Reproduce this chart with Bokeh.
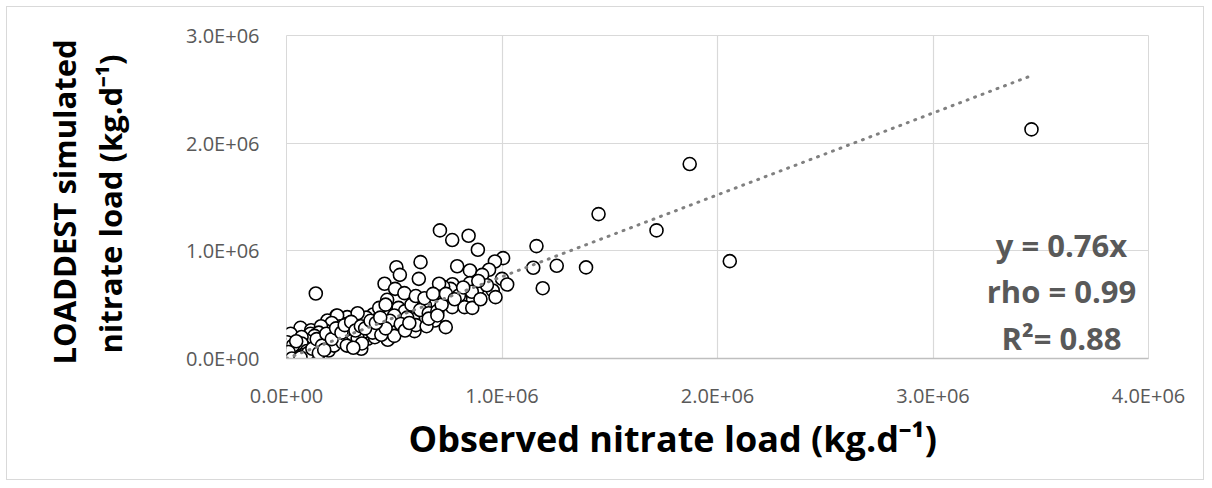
from bokeh.plotting import figure
from bokeh.models import Range1d, FixedTicker, Label, ColumnDataSource, Title
from bokeh.embed import file_html
from bokeh.resources import INLINE

# Observed vs LOADDEST simulated nitrate load (kg/d)
observed = [
    3.457e6, 1.871e6, 1.717e6, 2.057e6, 1.448e6, 1.160e6, 1.145e6, 1.254e6, 1.390e6, 1.189e6,
    1.005e6, 0.967e6, 0.940e6, 1.000e6, 1.024e6, 0.888e6, 0.845e6, 0.769e6, 0.712e6, 0.792e6,
    0.851e6, 0.908e6, 0.851e6, 0.770e6, 0.761e6, 0.885e6, 0.957e6, 0.970e6, 0.807e6, 0.727e6,
    0.136e6, 0.622e6, 0.510e6, 0.526e6, 0.614e6, 0.455e6, 0.504e6, 0.547e6, 0.708e6, 0.467e6,
    0.603e6, 0.642e6, 0.455e6, 0.588e6, 0.688e6, 0.739e6, 0.594e6, 0.507e6, 0.402e6, 0.405e6,
    0.377e6, 0.470e6, 0.347e6, 0.769e6, 0.826e6, 0.862e6, 0.800e6, 0.339e6, 0.232e6, 0.282e6,
    0.325e6, 0.190e6, 0.251e6, 0.289e6, 0.196e6, 0.142e6, 0.104e6, 0.065e6, 0.114e6, 0.019e6,
    0.003e6, 0.050e6, 0.127e6, 0.145e6, 0.000e6, 0.158e6, 0.104e6, 0.111e6, 0.235e6, 0.282e6,
    0.410e6, 0.520e6, 0.550e6, 0.580e6, 0.620e6, 0.660e6, 0.700e6, 0.720e6, 0.560e6, 0.500e6,
    0.480e6, 0.530e6, 0.600e6, 0.650e6, 0.440e6, 0.420e6, 0.380e6, 0.360e6, 0.400e6, 0.440e6,
    0.500e6, 0.550e6, 0.310e6, 0.300e6, 0.270e6, 0.250e6, 0.220e6, 0.210e6, 0.200e6, 0.180e6,
    0.170e6, 0.160e6, 0.150e6, 0.130e6, 0.120e6, 0.100e6, 0.090e6, 0.080e6, 0.070e6, 0.060e6,
    0.050e6, 0.040e6, 0.035e6, 0.030e6, 0.025e6, 0.020e6, 0.015e6, 0.010e6, 0.008e6, 0.005e6,
    0.012e6, 0.060e6, 0.080e6, 0.090e6, 0.110e6, 0.130e6, 0.160e6, 0.180e6, 0.200e6, 0.220e6,
    0.240e6, 0.260e6, 0.280e6, 0.330e6, 0.350e6, 0.310e6, 0.370e6, 0.330e6, 0.430e6, 0.460e6,
    0.600e6, 0.640e6, 0.680e6, 0.740e6, 0.780e6, 0.860e6, 0.900e6, 0.930e6, 0.890e6, 0.820e6,
    0.660e6, 0.700e6, 0.570e6, 0.460e6, 0.020e6, 0.040e6, 0.055e6, 0.070e6, 0.085e6, 0.095e6,
    0.030e6, 0.045e6, 0.075e6, 0.100e6, 0.120e6, 0.140e6, 0.165e6, 0.185e6, 0.210e6, 0.230e6,
    0.255e6, 0.270e6, 0.300e6, 0.320e6, 0.345e6, 0.365e6, 0.390e6, 0.415e6, 0.435e6, 0.010e6,
    0.025e6, 0.065e6, 0.150e6, 0.175e6,
]
simulated = [
    2.128e6, 1.806e6, 1.190e6, 0.904e6, 1.341e6, 1.044e6, 0.843e6, 0.861e6, 0.846e6, 0.653e6,
    0.932e6, 0.901e6, 0.824e6, 0.740e6, 0.687e6, 1.010e6, 1.140e6, 1.100e6, 1.190e6, 0.857e6,
    0.818e6, 0.777e6, 0.700e6, 0.690e6, 0.647e6, 0.641e6, 0.632e6, 0.570e6, 0.564e6, 0.666e6,
    0.604e6, 0.895e6, 0.848e6, 0.777e6, 0.740e6, 0.694e6, 0.647e6, 0.607e6, 0.694e6, 0.545e6,
    0.539e6, 0.493e6, 0.425e6, 0.362e6, 0.353e6, 0.291e6, 0.254e6, 0.254e6, 0.409e6, 0.307e6,
    0.183e6, 0.174e6, 0.090e6, 0.477e6, 0.477e6, 0.470e6, 0.585e6, 0.291e6, 0.397e6, 0.384e6,
    0.353e6, 0.353e6, 0.192e6, 0.167e6, 0.074e6, 0.167e6, 0.198e6, 0.285e6, 0.263e6, 0.230e6,
    0.151e6, 0.074e6, 0.043e6, 0.012e6, 0.000e6, 0.136e6, 0.090e6, 0.230e6, 0.400e6, 0.322e6,
    0.198e6, 0.470e6, 0.440e6, 0.500e6, 0.450e6, 0.420e6, 0.440e6, 0.500e6, 0.380e6, 0.400e6,
    0.350e6, 0.320e6, 0.310e6, 0.300e6, 0.300e6, 0.360e6, 0.330e6, 0.250e6, 0.240e6, 0.220e6,
    0.210e6, 0.260e6, 0.280e6, 0.220e6, 0.260e6, 0.300e6, 0.270e6, 0.330e6, 0.220e6, 0.260e6,
    0.190e6, 0.300e6, 0.240e6, 0.210e6, 0.150e6, 0.130e6, 0.170e6, 0.110e6, 0.200e6, 0.080e6,
    0.120e6, 0.050e6, 0.090e6, 0.030e6, 0.060e6, 0.015e6, 0.040e6, 0.020e6, 0.005e6, 0.010e6,
    0.000e6, 0.030e6, 0.050e6, 0.020e6, 0.060e6, 0.080e6, 0.100e6, 0.130e6, 0.160e6, 0.120e6,
    0.200e6, 0.150e6, 0.120e6, 0.190e6, 0.140e6, 0.100e6, 0.380e6, 0.420e6, 0.470e6, 0.500e6,
    0.580e6, 0.560e6, 0.600e6, 0.600e6, 0.550e6, 0.620e6, 0.550e6, 0.680e6, 0.720e6, 0.660e6,
    0.370e6, 0.400e6, 0.330e6, 0.280e6, 0.070e6, 0.100e6, 0.020e6, 0.140e6, 0.040e6, 0.070e6,
    0.120e6, 0.160e6, 0.030e6, 0.050e6, 0.090e6, 0.180e6, 0.120e6, 0.230e6, 0.180e6, 0.280e6,
    0.240e6, 0.310e6, 0.340e6, 0.260e6, 0.300e6, 0.280e6, 0.350e6, 0.330e6, 0.380e6, 0.060e6,
    0.000e6, 0.010e6, 0.050e6, 0.080e6,
]

trend_slope = 0.76
trend_x = [0.0, max(observed)]
trend_y = [trend_slope * v for v in trend_x]

x_ticks = [0, 1e6, 2e6, 3e6, 4e6]
x_tick_labels = ["0.0E+00", "1.0E+06", "2.0E+06", "3.0E+06", "4.0E+06"]
y_ticks = [0, 1e6, 2e6, 3e6]
y_tick_labels = ["0.0E+00", "1.0E+06", "2.0E+06", "3.0E+06"]

stats_lines = ["y = 0.76x", "rho = 0.99", "R\u00b2= 0.88"]
x_title = "Observed nitrate load (kg.d\u207b\u00b9)"
y_title_1 = "LOADDEST simulated"
y_title_2 = "nitrate load (kg.d\u207b\u00b9)"

FONT = "Open Sans"
GRAY = "#595959"

p = figure(width=1198, height=474, output_backend="svg", toolbar_location=None,
           x_range=Range1d(0, 4e6), y_range=Range1d(0, 3e6),
           min_border_left=279, min_border_right=57, min_border_top=28, min_border_bottom=123)
p.styles = {"border": "1px solid #d9d9d9", "margin-left": "6px", "margin-top": "6px"}
p.background_fill_color = "white"
p.border_fill_color = "white"
p.outline_line_color = "#d9d9d9"
p.outline_line_width = 1

for ax, ticks, labels in ((p.xaxis[0], x_ticks, x_tick_labels), (p.yaxis[0], y_ticks, y_tick_labels)):
    ax.ticker = FixedTicker(ticks=ticks)
    ax.major_label_overrides = {t: l for t, l in zip(ticks, labels)}
    ax.major_tick_line_color = None
    ax.minor_tick_line_color = None
    ax.major_label_text_font = FONT
    ax.major_label_text_font_size = "20px"
    ax.major_label_text_color = GRAY

p.xaxis.axis_line_color = "#bfbfbf"
p.xaxis.axis_line_width = 1.5
p.yaxis.axis_line_color = None
p.xaxis.major_label_standoff = 17
p.yaxis.major_label_standoff = 21

# y axis title: a blank spacer, then two stacked vertical titles (bottom-anchored)
p.add_layout(Title(text=" ", text_font=FONT, text_font_size="10px", standoff=35), "left")
p.add_layout(Title(text=y_title_2, align="left", offset=5, text_font=FONT, text_font_style="bold",
                   text_font_size="31px", text_color="black", standoff=2), "left")
p.add_layout(Title(text=y_title_1, align="left", offset=-6, text_font=FONT, text_font_style="bold",
                   text_font_size="31px", text_color="black", standoff=1), "left")

p.add_layout(Title(text=x_title, align="left", offset=122, text_font=FONT, text_font_style="bold",
                   text_font_size="36px", text_color="black", standoff=0), "below")

p.xgrid.ticker = FixedTicker(ticks=x_ticks)
p.ygrid.ticker = FixedTicker(ticks=y_ticks)
p.grid.grid_line_color = "#d9d9d9"
p.grid.grid_line_width = 1.2

src = ColumnDataSource(dict(obs=observed, sim=simulated))
p.scatter("obs", "sim", source=src, marker="circle", size=13,
          fill_color="white", line_color="black", line_width=1.6)

p.line(trend_x, trend_y, line_color="#808080", line_width=3, line_dash="1 7", line_cap="round")

for txt, yv in zip(stats_lines, [1.05e6, 0.625e6, 0.195e6]):
    p.add_layout(Label(x=3.596e6, y=yv, text=txt, text_align="center", text_baseline="alphabetic",
                       text_font=FONT, text_font_style="bold", text_font_size="31px",
                       text_color=GRAY))

open("out.html", "w").write(file_html(p, INLINE))
